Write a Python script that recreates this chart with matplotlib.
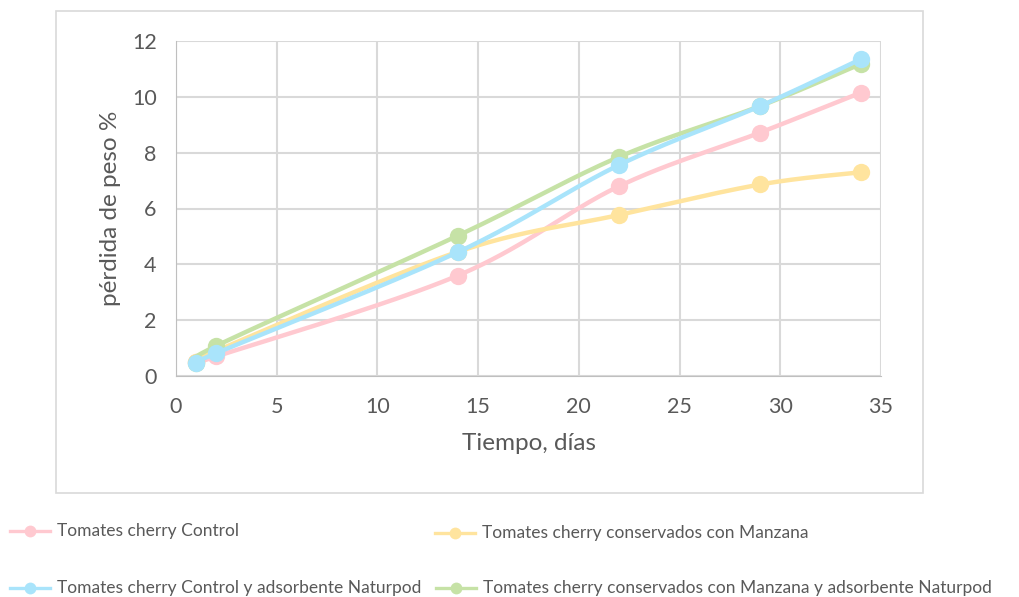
import numpy as np
import matplotlib
matplotlib.use("Agg")
import matplotlib.pyplot as plt
from matplotlib.patches import Rectangle
from matplotlib.lines import Line2D

# Días de conservación y pérdida de peso (%)
dias = [1, 2, 14, 22, 29, 34]
control = [0.50, 0.70, 3.60, 6.80, 8.72, 10.15]
manzana = [0.50, 0.90, 4.45, 5.77, 6.86, 7.30]
control_naturpod = [0.48, 0.82, 4.44, 7.56, 9.67, 11.35]
manzana_naturpod = [0.47, 1.08, 5.03, 7.85, 9.67, 11.18]

etiquetas = [
    "Tomates cherry Control",
    "Tomates cherry conservados con Manzana",
    "Tomates cherry Control y adsorbente Naturpod",
    "Tomates cherry conservados con Manzana y adsorbente Naturpod",
]
colores = ["#FFC9D0", "#FFE49E", "#A9E4FB", "#C6E2A6"]

plt.rcParams["font.family"] = ["Lato", "DejaVu Sans"]
TEXT = "#595959"


def curva_suave(x, y, n=40, t=0.5):
    """Cardinal spline (estilo 'línea suavizada') a través de los puntos."""
    p = np.column_stack([x, y]).astype(float)
    ext = np.vstack([p[0], p, p[-1]])
    out = []
    for i in range(1, len(ext) - 2):
        p0, p1, p2, p3 = ext[i - 1], ext[i], ext[i + 1], ext[i + 2]
        m1 = t * (p2 - p0)
        m2 = t * (p3 - p1)
        s = np.linspace(0, 1, n)[:, None]
        h00 = 2 * s**3 - 3 * s**2 + 1
        h10 = s**3 - 2 * s**2 + s
        h01 = -2 * s**3 + 3 * s**2
        h11 = s**3 - s**2
        out.append(h00 * p1 + h10 * m1 + h01 * p2 + h11 * m2)
    c = np.vstack(out)
    return c[:, 0], c[:, 1]


W, H = 1019, 597
fig = plt.figure(figsize=(W / 100, H / 100), dpi=100)

# Marco exterior del gráfico
fig.patches.append(Rectangle((56 / W, 1 - 493 / H), 867 / W, 482 / H,
                             transform=fig.transFigure, fill=False,
                             edgecolor="#D9D9D9", linewidth=1.2))

ax = fig.add_axes([176 / W, 1 - 376 / H, 705 / W, 335 / H])
series = [control, manzana, manzana_naturpod, control_naturpod]
cols = [colores[0], colores[1], colores[3], colores[2]]
for z, (vals, c) in enumerate(zip(series, cols)):
    xs, ys = curva_suave(dias, vals)
    ax.plot(xs, ys, color=c, linewidth=3.2, zorder=3 + z, solid_capstyle="round")
    ax.plot(dias, vals, linestyle="none", marker="o", markersize=12.5,
            color=c, markeredgewidth=0, zorder=3 + z)

ax.set_xlim(0, 35)
ax.set_ylim(0, 12)
ax.set_xticks(range(0, 36, 5))
ax.set_yticks(range(0, 13, 2))
ax.grid(True, color="#D9D9D9", linewidth=1.5)
ax.set_axisbelow(True)
for s in ax.spines.values():
    s.set_visible(False)
ax.spines["left"].set_visible(True)
ax.spines["bottom"].set_visible(True)
ax.spines["left"].set_color("#BFBFBF")
ax.spines["bottom"].set_color("#BFBFBF")
ax.tick_params(length=0, labelsize=15.5, labelcolor=TEXT)
ax.tick_params(axis="x", pad=15)
ax.tick_params(axis="y", pad=14)
ax.set_xlabel("Tiempo, días", fontsize=17.5, color=TEXT, labelpad=12)
ax.set_ylabel("pérdida de peso %", fontsize=17.5, color=TEXT, labelpad=8)

# Leyenda inferior
posiciones = [(10, 531), (435, 533), (10, 588), (436, 588)]
for lab, c, (px, py) in zip(etiquetas, colores, posiciones):
    yf = 1 - py / H
    fig.add_artist(Line2D([px / W, (px + 40) / W], [yf, yf], color=c,
                          linewidth=2.4, transform=fig.transFigure))
    fig.add_artist(Line2D([(px + 20) / W], [yf], color=c, marker="o",
                          markersize=8.5, markeredgewidth=0,
                          transform=fig.transFigure))
    fig.text((px + 47) / W, yf, lab, fontsize=12.5, color=TEXT,
             va="center", ha="left")

fig.savefig("out.png", dpi=100, facecolor="white")
